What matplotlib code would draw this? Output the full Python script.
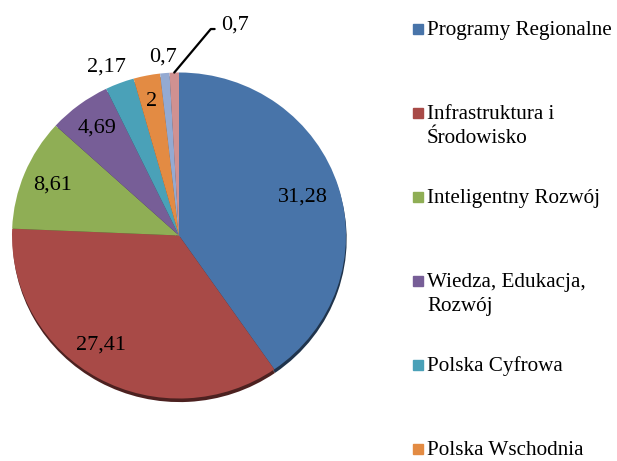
import matplotlib
matplotlib.use("Agg")
import matplotlib.pyplot as plt
import matplotlib.colors as mcolors
import numpy as np
from matplotlib.patches import Rectangle

plt.rcParams["font.family"] = ["Liberation Serif", "DejaVu Serif"]

PROGRAMS = [
    "Programy Regionalne",
    "Infrastruktura i\nŚrodowisko",
    "Inteligentny Rozwój",
    "Wiedza, Edukacja,\nRozwój",
    "Polska Cyfrowa",
    "Polska Wschodnia",
    "Pomoc Techniczna",
    "Europejska Współpraca Terytorialna",
]
VALUES = [31.28, 27.41, 8.61, 4.69, 2.17, 2, 0.7, 0.7]
COLORS = [
    "#4874a9", "#a84a47", "#8fae55", "#775e97",
    "#4aa1b8", "#e38b43", "#94aad2", "#d09191",
]

# label placement per slice: radius (fraction of pie radius) and angle nudge
LABEL_R = [0.78, 0.82, 0.82, 0.82, 1.12, 0.84, 1.10, None]
LABEL_NUDGE = [0, -6, 0, 0, 2, 0, 0, 0]
N_LEGEND = 6

W, H = 617, 461
CX, CY, RX, RY = 179, 235.5, 167, 163   # pie centre / radii in pixels
LIM = 1.3


def fmt(v):
    return f"{v:g}".replace(".", ",")


def main():
    fig = plt.figure(figsize=(W / 100, H / 100), dpi=100)
    ax = fig.add_axes([
        (CX - LIM * RX) / W, (H - CY - LIM * RY) / H,
        2 * LIM * RX / W, 2 * LIM * RY / H,
    ])

    # dark drop edge under the pie
    shadow = [tuple(0.45 * np.array(mcolors.to_rgb(c))) for c in COLORS]
    ax.pie(VALUES, colors=shadow, startangle=90, counterclock=False,
           center=(0.004, -0.022), wedgeprops=dict(linewidth=0))
    wedges, _ = ax.pie(VALUES, colors=COLORS, startangle=90, counterclock=False,
                       wedgeprops=dict(linewidth=0))
    ax.set_aspect("auto")
    ax.set_xlim(-LIM, LIM)
    ax.set_ylim(-LIM, LIM)
    ax.axis("off")

    for i, (w, v) in enumerate(zip(wedges, VALUES)):
        mid = np.deg2rad((w.theta1 + w.theta2) / 2 + LABEL_NUDGE[i])
        if LABEL_R[i] is None:
            # small slice with a leader line
            ax.annotate(fmt(v), xy=(np.cos(mid), np.sin(mid)),
                        xytext=(0.255, 1.29), fontsize=16, ha="left", va="center",
                        arrowprops=dict(arrowstyle="-", color="black", lw=1.6,
                                        shrinkA=3, shrinkB=0, relpos=(0, 0.3),
                                        connectionstyle="angle,angleA=0,angleB=50,rad=0"))
            continue
        r = LABEL_R[i]
        ax.text(r * np.cos(mid), r * np.sin(mid), fmt(v), fontsize=16,
                ha="center", va="center")

    # legend column on the right
    step = 84
    for i in range(N_LEGEND):
        yc = 29 + i * step
        fig.patches.append(Rectangle((413 / W, 1 - (yc + 5) / H), 10 / W, 10 / H,
                                     transform=fig.transFigure, color=COLORS[i]))
        for k, line in enumerate(PROGRAMS[i].split("\n")):
            fig.text(427 / W, 1 - (yc + 6 + k * 24) / H, line, fontsize=15.2,
                     ha="left", va="baseline")

    fig.savefig("out.png", dpi=100)
    plt.close(fig)


if __name__ == "__main__":
    main()
